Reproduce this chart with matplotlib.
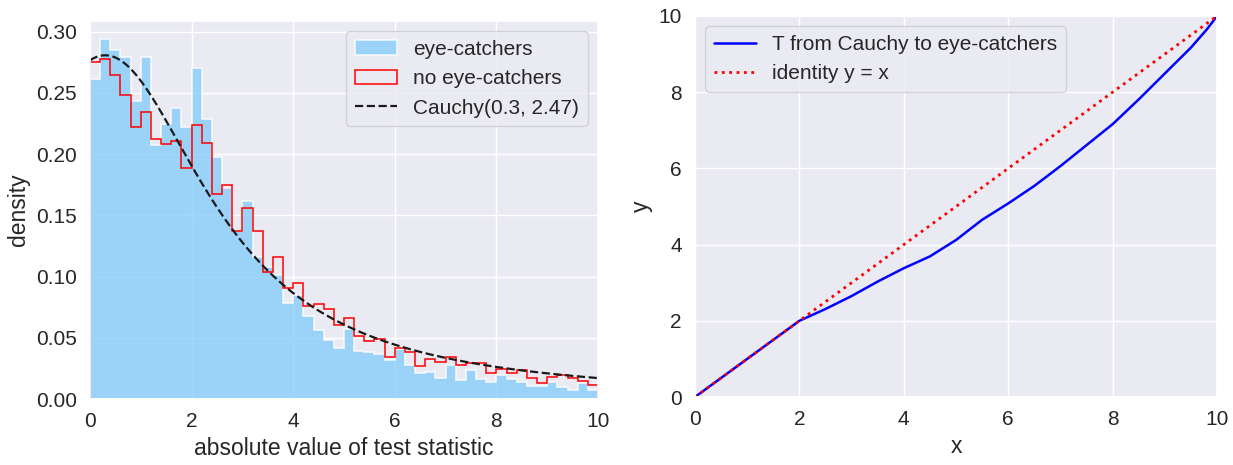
import numpy as np
import matplotlib
matplotlib.use("Agg")
import matplotlib.pyplot as plt
import seaborn as sns

# histogram bins: 50 bins of width 0.2 on [0, 10]
bin_edges = np.linspace(0, 10, 51)

# density, eye-catchers (filled)
eye_density = [0.261, 0.294, 0.285, 0.279, 0.2435, 0.279, 0.2075, 0.2247, 0.2375, 0.2225,
               0.270, 0.229, 0.1975, 0.172, 0.137, 0.162, 0.116, 0.108, 0.101, 0.078,
               0.085, 0.068, 0.056, 0.048, 0.042, 0.057, 0.0395, 0.038, 0.037, 0.032,
               0.041, 0.028, 0.0215, 0.022, 0.017, 0.028, 0.0155, 0.024, 0.016, 0.0136,
               0.0196, 0.016, 0.014, 0.0106, 0.0106, 0.014, 0.010, 0.007, 0.0128, 0.0074]

# density, no eye-catchers (outline)
no_eye_density = [0.275, 0.278, 0.265, 0.248, 0.2225, 0.2347, 0.212, 0.2083, 0.211, 0.189,
                  0.2238, 0.2094, 0.1675, 0.1746, 0.137, 0.156, 0.137, 0.1035, 0.1158, 0.0904,
                  0.095, 0.076, 0.0773, 0.0733, 0.0605, 0.0664, 0.0517, 0.0477, 0.0487, 0.0341,
                  0.0414, 0.0381, 0.0272, 0.0324, 0.0305, 0.0346, 0.0278, 0.0297, 0.0292, 0.021,
                  0.0245, 0.021, 0.0237, 0.0169, 0.0128, 0.0182, 0.0196, 0.0174, 0.015, 0.0114]

# fitted Cauchy parameters (from the legend)
cauchy_loc = 0.3
cauchy_scale = 2.47

# transport map T
t_x = [0, 0.5, 1, 1.5, 2, 2.5, 3, 3.5, 4, 4.5, 5, 5.5, 6, 6.5, 7, 7.5, 8, 8.5, 9, 9.5, 9.8, 10]
t_y = [0, 0.5, 1.0, 1.5, 2.0, 2.31, 2.65, 3.03, 3.38, 3.69, 4.12, 4.65, 5.08, 5.54, 6.06, 6.61,
       7.16, 7.81, 8.49, 9.17, 9.64, 10.0]


def cauchy_pdf_truncated(x, loc, scale, lo, hi):
    pdf = 1.0 / (np.pi * scale * (1 + ((x - loc) / scale) ** 2))
    mass = (np.arctan((hi - loc) / scale) - np.arctan((lo - loc) / scale)) / np.pi
    return pdf / mass


sns.set_theme(style="darkgrid", font_scale=1.37)
plt.rcParams['font.family'] = ['Liberation Sans', 'DejaVu Sans']

W, H = 1233, 465
fig, (ax1, ax2) = plt.subplots(1, 2, figsize=(W / 100, H / 100), dpi=100)
# axes boxes in pixels (left, right, top, bottom)
ax1.set_position([90 / W, (H - 399) / H, (598 - 90) / W, (399 - 21) / H])
ax2.set_position([695 / W, (H - 397) / H, (1217 - 695) / W, (397 - 16) / H])

centers = (bin_edges[:-1] + bin_edges[1:]) / 2
ax1.hist(centers, bins=bin_edges, weights=eye_density, histtype="stepfilled",
         color="lightskyblue", alpha=0.8, edgecolor="white", linewidth=1.2,
         label="eye-catchers")
ax1.hist(centers, bins=bin_edges, weights=no_eye_density, histtype="step",
         color="red", linewidth=1.1, label="no eye-catchers")
xs = np.linspace(0, 10, 300)
ax1.plot(xs, cauchy_pdf_truncated(xs, cauchy_loc, cauchy_scale, 0, 10), "k--", lw=1.6,
         label=f"Cauchy({cauchy_loc}, {cauchy_scale})")
ax1.set_xlim(0, 10)
ax1.set_xlabel("absolute value of test statistic")
ax1.set_ylabel("density")
ax1.legend(loc="upper right")

ax2.plot(t_x, t_y, color="blue", lw=1.8, label="T from Cauchy to eye-catchers")
ax2.plot([0, 10], [0, 10], color="red", ls=":", lw=2.0, label="identity y = x")
ax2.set_xlim(0, 10)
ax2.set_ylim(0, 10)
ax2.set_xlabel("x")
ax2.set_ylabel("y")
ax2.legend(loc="upper left")

plt.savefig("out.png")
